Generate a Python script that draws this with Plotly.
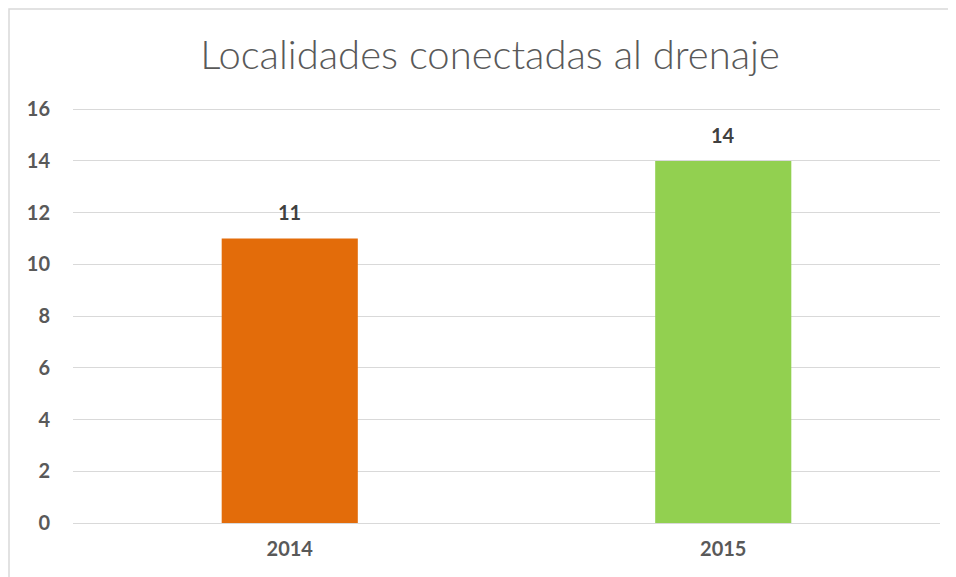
import plotly.graph_objects as go

categories = ["2014", "2015"]
values = [11, 14]
bar_colors = ["#E36C0A", "#92D050"]
y_ticks = [0, 2, 4, 6, 8, 10, 12, 14, 16]

OFF = 8  # page body margin
W, H = 956 - OFF, 577 - OFF
L, R, T, B = 73 - OFF, 16, 104 - OFF, 54
Y_MAX = 16.2
pw, ph = W - L - R, H - T - B

fig = go.Figure(go.Bar(
    x=categories, y=values,
    marker=dict(color=bar_colors, line=dict(width=0)),
    width=0.314,
))

for i, v in enumerate(values):
    fig.add_annotation(x=i, y=v, xref="x", yref="y", text=str(v), showarrow=False,
                       yshift=26, yanchor="middle",
                       font=dict(family="Lato", size=20, color="#404040", weight="bold"))

fig.update_layout(
    width=W, height=H,
    margin=dict(l=L, r=R, t=T, b=B),
    paper_bgcolor="white", plot_bgcolor="white",
    showlegend=False,
    title=dict(text="Localidades conectadas al drenaje",
               x=(490 - 8 - L) / pw, xref="paper", xanchor="center",
               y=1 - (55 - OFF) / H, yanchor="middle",
               font=dict(family="Lato", size=40, color="#595959", weight=300)),
    xaxis=dict(type="category", range=[-0.5, 1.5], showline=False, ticks="",
               showgrid=False, zeroline=False, ticklabelstandoff=12,
               tickfont=dict(family="Lato", size=20, color="#595959", weight="bold")),
    yaxis=dict(range=[0, Y_MAX], tickvals=y_ticks, showgrid=True, gridcolor="#D9D9D9",
               gridwidth=1, zeroline=True, zerolinecolor="#D9D9D9", zerolinewidth=1,
               showline=False, ticks="", ticklabelstandoff=22,
               tickfont=dict(family="Lato", size=20, color="#595959", weight="bold")),
    shapes=[dict(type="rect", xref="paper", yref="paper",
                 x0=(9 - 73) / pw, x1=(W + 20 - L) / pw,
                 y0=-(B + 20) / ph, y1=1 + (T - 1) / ph,
                 line=dict(color="#D9D9D9", width=1.5), fillcolor="rgba(0,0,0,0)",
                 layer="below")],
)

fig.write_html("out.html")
